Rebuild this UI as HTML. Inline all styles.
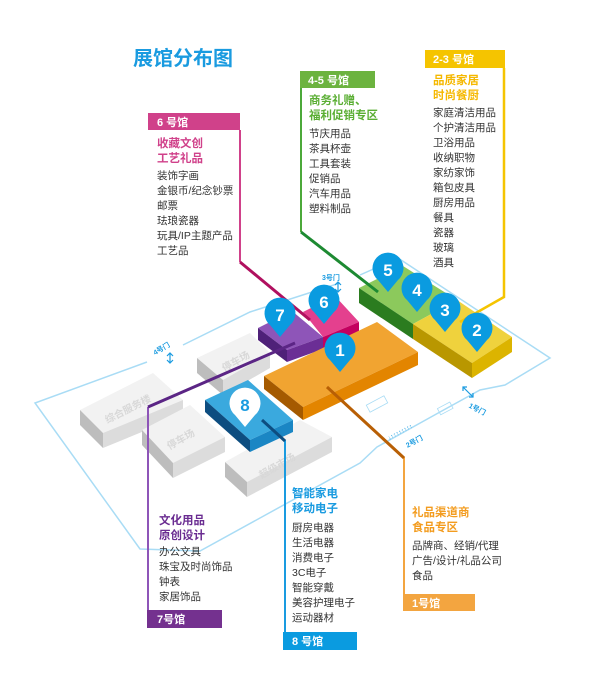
<!DOCTYPE html>
<html><head><meta charset="utf-8"><style>
html,body{margin:0;padding:0;background:#fff;}
svg{display:block;font-family:"Liberation Sans","Noto Sans CJK SC",sans-serif;}
.it{font-size:10.5px;fill:#333;}
.hd{font-size:11.5px;font-weight:bold;}
.lb{font-size:11px;font-weight:bold;fill:#fff;}
.g{font-size:10px;font-weight:bold;fill:#d8d8d8;}
.gt{font-size:7px;font-weight:bold;fill:#1a9be0;}
</style></head><body>
<svg width="616" height="684" viewBox="0 0 616 684" xmlns="http://www.w3.org/2000/svg">
<defs>
<g id="pin"><path d="M0,22 L-10,10 A15.5,15.5 0 1,1 10,10 Z" fill="#0a9be0"/></g>
</defs>
<rect width="616" height="684" fill="#fff"/>
<text x="133" y="65" font-size="20" font-weight="bold" fill="#1a9be0">展馆分布图</text>

<!-- site outline -->
<polyline points="147,362 35,403 140,549 200,551 360,463 377,447 440,412 480,390 505,385 550,358 398,258 360,275" fill="none" stroke="#a9dcf5" stroke-width="1.5"/>
<polyline points="340,283 250,312 183,345" fill="none" stroke="#a9dcf5" stroke-width="1.5"/>

<!-- grey buildings -->
<polygon points="80,410 153,373 183,400 103,433" fill="#f2f2f2"/>
<polygon points="80,410 103,433 103,448 80,425" fill="#bdbdbd"/>
<polygon points="103,433 183,400 183,415 103,448" fill="#dcdcdc"/>
<text class="g" x="103" y="414" transform="rotate(-27 125 410)">综合服务楼</text>
<polygon points="197,358 250,333 270,353 223,380" fill="#f2f2f2"/>
<polygon points="197,358 223,380 223,395 197,373" fill="#bdbdbd"/>
<polygon points="223,380 270,353 270,368 223,395" fill="#dcdcdc"/>
<text class="g" x="220" y="365" transform="rotate(-30 235 360)">停车场</text>
<polygon points="142,430 190,405 225,437 173,463" fill="#f2f2f2"/>
<polygon points="142,430 173,463 173,478 142,445" fill="#bdbdbd"/>
<polygon points="173,463 225,437 225,452 173,478" fill="#dcdcdc"/>
<text class="g" x="165" y="443" transform="rotate(-30 180 438)">停车场</text>
<polygon points="225,462 300,420 332,437 247,482" fill="#f2f2f2"/>
<polygon points="225,462 247,482 247,497 225,477" fill="#bdbdbd"/>
<polygon points="247,482 332,437 332,452 247,497" fill="#dcdcdc"/>
<text class="g" x="255" y="470" transform="rotate(-30 275 462)">超级市场</text>

<!-- green/yellow strip -->
<polygon points="359,288 403,266 457,300 413,324" fill="#8cc95c"/>
<polygon points="457,300 512,337 472,363 413,324" fill="#efd23d"/>
<polygon points="359,288 413,324 413,339 359,303" fill="#2b7c1f"/>
<polygon points="413,324 472,363 472,378 413,339" fill="#b99700"/>
<polygon points="472,363 512,337 512,352 472,378" fill="#dcb400"/>

<!-- pink 6 -->
<polygon points="303,312 335,296 359,322 323,337" fill="#e4408e"/>
<polygon points="323,337 359,322 359,334 323,349" fill="#c4005f"/>
<!-- purple 7 -->
<polygon points="258,328 292,311 323,337 287,350" fill="#8e55b8"/>
<polygon points="258,328 287,350 287,362 258,340" fill="#4f2179"/>
<polygon points="287,350 323,337 323,349 287,362" fill="#6b2e95"/>
<!-- orange 1 -->
<polygon points="264,376 377,322 418,352 303,407" fill="#f1a431"/>
<polygon points="264,376 303,407 303,420 264,389" fill="#a55a00"/>
<polygon points="303,407 418,352 418,365 303,420" fill="#e38500"/>
<!-- blue 8 -->
<polygon points="205,400 248,380 293,420 250,440" fill="#3aa9de"/>
<polygon points="205,400 250,440 250,452 205,412" fill="#0d4d80"/>
<polygon points="250,440 293,420 293,432 250,452" fill="#1a86c4"/>

<!-- gate labels -->
<text class="gt" x="322" y="280">3号门</text>
<path d="M338,282 v10 M335,285 l3,-3 3,3 M335,289 l3,3 3,-3" stroke="#1a9be0" fill="none" stroke-width="1.2"/>
<text class="gt" x="153" y="352" transform="rotate(-30 160 350)">4号门</text>
<path d="M170,353 v10 M167,356 l3,-3 3,3 M167,360 l3,3 3,-3" stroke="#1a9be0" fill="none" stroke-width="1.2"/>
<path d="M463,387 l10,10 M463,391 v-4 h4 M473,393 v4 h-4" stroke="#1a9be0" fill="none" stroke-width="1.2"/>
<text class="gt" x="470" y="410" transform="rotate(28 475 405)">1号门</text>
<text class="gt" x="405" y="446" transform="rotate(-28 410 442)">2号门</text>
<text x="389" y="440" font-size="6" fill="#1a9be0" transform="rotate(-28 389 440)">↓↑↑↑↑↑↑↑↑</text>
<rect x="367" y="400" width="20" height="8" fill="none" stroke="#a9dcf5" stroke-width="0.8" transform="rotate(-28 377 404)"/>
<rect x="438" y="405" width="14" height="7" fill="none" stroke="#a9dcf5" stroke-width="0.8" transform="rotate(-28 445 408)"/>

<!-- connector lines -->
<polyline points="504,68 504,297 460,322" fill="none" stroke="#f5c400" stroke-width="2.5"/>
<polyline points="301,88 301,232" fill="none" stroke="#4ca93a" stroke-width="2"/>
<polyline points="301,232 378,292" fill="none" stroke="#1d8a32" stroke-width="3"/>
<polyline points="240,130 240,262" fill="none" stroke="#d0418a" stroke-width="2"/>
<polyline points="240,262 310,320" fill="none" stroke="#b0105f" stroke-width="3"/>
<polyline points="148,610 148,407" fill="none" stroke="#8e55b8" stroke-width="2"/>
<polyline points="148,407 295,343" fill="none" stroke="#5b2585" stroke-width="3"/>
<polyline points="285,632 285,440" fill="none" stroke="#1a9be0" stroke-width="2"/>
<polyline points="285,441 262,420" fill="none" stroke="#0d4d80" stroke-width="3"/>
<polyline points="404,594 404,457" fill="none" stroke="#f3a540" stroke-width="2"/>
<polyline points="404,458 327,387" fill="none" stroke="#b85f05" stroke-width="3"/>

<!-- pins -->
<g font-size="17" font-weight="bold" fill="#fff" text-anchor="middle">
<use href="#pin" x="388" y="270"/><text x="388" y="276">5</text>
<use href="#pin" x="417" y="290"/><text x="417" y="296">4</text>
<use href="#pin" x="445" y="310"/><text x="445" y="316">3</text>
<use href="#pin" x="477" y="330"/><text x="477" y="336">2</text>
<use href="#pin" x="324" y="302"/><text x="324" y="308">6</text>
<use href="#pin" x="280" y="315"/><text x="280" y="321">7</text>
<use href="#pin" x="340" y="350"/><text x="340" y="356">1</text>
<g><path d="M245,427 L235,415 A15.5,15.5 0 1,1 255,415 Z" fill="#fff"/><text x="245" y="411" fill="#1a9be0">8</text></g>
</g>

<!-- 2-3 -->
<rect x="425" y="50" width="80" height="18" fill="#f5c400"/>
<text class="lb" x="433" y="63">2-3 号馆</text>
<text class="hd" x="433" y="84" fill="#f5b800">品质家居</text>
<text class="hd" x="433" y="99" fill="#f5b800">时尚餐厨</text>
<g class="it"><text x="433" y="116">家庭清洁用品</text><text x="433" y="131">个护清洁用品</text><text x="433" y="146">卫浴用品</text><text x="433" y="161">收纳职物</text><text x="433" y="176">家纺家饰</text><text x="433" y="191">箱包皮具</text><text x="433" y="206">厨房用品</text><text x="433" y="221">餐具</text><text x="433" y="236">瓷器</text><text x="433" y="251">玻璃</text><text x="433" y="266">酒具</text></g>

<!-- 4-5 -->
<rect x="300" y="71" width="75" height="17" fill="#6cb33f"/>
<text class="lb" x="308" y="84">4-5 号馆</text>
<text class="hd" x="309" y="104" fill="#5aae33">商务礼赠、</text>
<text class="hd" x="309" y="119" fill="#5aae33">福利促销专区</text>
<g class="it"><text x="309" y="137">节庆用品</text><text x="309" y="152">茶具杯壶</text><text x="309" y="167">工具套装</text><text x="309" y="182">促销品</text><text x="309" y="197">汽车用品</text><text x="309" y="212">塑料制品</text></g>

<!-- 6 -->
<rect x="148" y="113" width="92" height="17" fill="#d0418a"/>
<text class="lb" x="157" y="126">6 号馆</text>
<text class="hd" x="157" y="147" fill="#d0418a">收藏文创</text>
<text class="hd" x="157" y="162" fill="#d0418a">工艺礼品</text>
<g class="it"><text x="157" y="179">装饰字画</text><text x="157" y="194">金银币/纪念钞票</text><text x="157" y="209">邮票</text><text x="157" y="224">珐琅瓷器</text><text x="157" y="239">玩具/IP主题产品</text><text x="157" y="254">工艺品</text></g>

<!-- 7 -->
<text class="hd" x="159" y="524" fill="#6a2c91">文化用品</text>
<text class="hd" x="159" y="539" fill="#6a2c91">原创设计</text>
<g class="it"><text x="159" y="555">办公文具</text><text x="159" y="570">珠宝及时尚饰品</text><text x="159" y="585">钟表</text><text x="159" y="600">家居饰品</text></g>
<rect x="147" y="610" width="75" height="18" fill="#74318f"/>
<text class="lb" x="157" y="623">7号馆</text>

<!-- 8 -->
<text class="hd" x="292" y="497" fill="#1a9be0">智能家电</text>
<text class="hd" x="292" y="512" fill="#1a9be0">移动电子</text>
<g class="it"><text x="292" y="531">厨房电器</text><text x="292" y="546">生活电器</text><text x="292" y="561">消费电子</text><text x="292" y="576">3C电子</text><text x="292" y="591">智能穿戴</text><text x="292" y="606">美容护理电子</text><text x="292" y="621">运动器材</text></g>
<rect x="283" y="632" width="74" height="18" fill="#0a9be0"/>
<text class="lb" x="292" y="645">8 号馆</text>

<!-- 1 -->
<text class="hd" x="412" y="516" fill="#f39c1f">礼品渠道商</text>
<text class="hd" x="412" y="531" fill="#f39c1f">食品专区</text>
<g class="it"><text x="412" y="549">品牌商、经销/代理</text><text x="412" y="564">广告/设计/礼品公司</text><text x="412" y="579">食品</text></g>
<rect x="403" y="594" width="72" height="17" fill="#f3a540"/>
<text class="lb" x="412" y="607">1号馆</text>
</svg>
</body></html>
